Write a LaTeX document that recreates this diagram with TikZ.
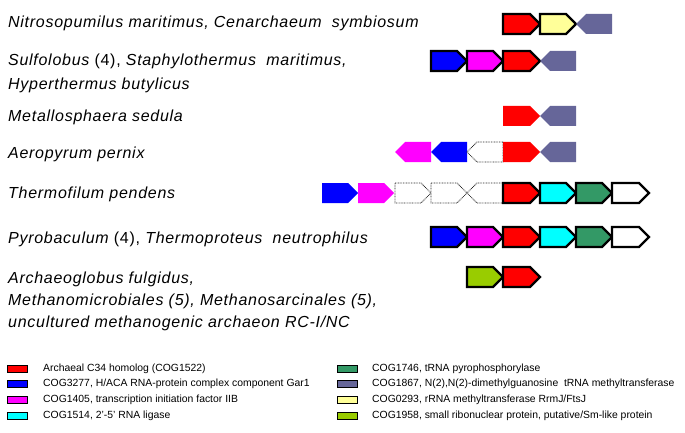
\documentclass[tikz,border=0pt]{standalone}
\usepackage{fontspec}
\setmainfont{Liberation Sans}
\newfontfamily\spfont[LetterSpace=4.5]{Liberation Sans}
\definecolor{cred}{HTML}{FF0000}
\definecolor{cblue}{HTML}{0000FF}
\definecolor{cmag}{HTML}{FF00FF}
\definecolor{ccyan}{HTML}{00FFFF}
\definecolor{cgreen}{HTML}{339966}
\definecolor{cslate}{HTML}{666699}
\definecolor{cyell}{HTML}{FFFF99}
\definecolor{clime}{HTML}{99CC00}
\tikzset{
  thickb/.style={draw=black,line width=2.2pt,line join=miter},
  nob/.style={draw=none},
  dotb/.style={draw=black!85,line width=0.8pt,dash pattern=on 0.8pt off 0.8pt,fill=white},
  sp/.style={anchor=base west,inner sep=0pt,font=\spfont\fontsize{16}{19}\selectfont\itshape},
  lg/.style={anchor=west,inner sep=0pt,font=\fontsize{10.4}{12}\selectfont},
  lbox/.style={draw=black,line width=0.6pt},
}
% right-pointing gene: x1, x2, y, style
\newcommand\gR[4]{\path[#4] (#1,#3-10) -- (#2-10,#3-10) -- (#2,#3) -- (#2-10,#3+10) -- (#1,#3+10) -- cycle;}
% left-pointing gene
\newcommand\gL[4]{\path[#4] (#2,#3-10) -- (#1+10,#3-10) -- (#1,#3) -- (#1+10,#3+10) -- (#2,#3+10) -- cycle;}
\begin{document}
\begin{tikzpicture}[x=1pt,y=-1pt]
\useasboundingbox (0,0) rectangle (685,433);
% species labels
\node[sp] (t1) at (8,28) {Nitrosopumilus maritimus, Cenarchaeum\ \ symbiosum};
\node[sp] (t2) at (8,66) {Sulfolobus \upshape(4), \itshape Staphylothermus\ \ maritimus,};
\node[sp] (t2b) at (8,90) {Hyperthermus butylicus};
\node[sp] (t3) at (8,122) {Metallosphaera sedula};
\node[sp] (t4) at (8,158) {Aeropyrum pernix};
\node[sp] (t5) at (8,198) {Thermofilum pendens};
\node[sp] (t6) at (8,243) {Pyrobaculum \upshape(4), \itshape Thermoproteus\ \ neutrophilus};
\node[sp] (t7) at (8,283) {Archaeoglobus fulgidus,};
\node[sp] (t7b) at (8,305) {Methanomicrobiales (5), Methanosarcinales (5),};
\node[sp] (t7c) at (8,327) {uncultured methanogenic archaeon RC-I/NC};
% row 1
\gR{503}{540}{24}{thickb,fill=cred}
\gR{540}{576}{24}{thickb,fill=cyell}
\gL{576}{612}{24}{nob,fill=cslate}
% row 2
\gR{431}{467}{61}{thickb,fill=cblue}
\gR{467}{503}{61}{thickb,fill=cmag}
\gR{503}{540}{61}{thickb,fill=cred}
\gL{540}{576}{61}{nob,fill=cslate}
% row 3
\gR{503}{540}{116}{nob,fill=cred}
\gL{540}{576}{116}{nob,fill=cslate}
% row 4
\gL{395}{431}{152}{nob,fill=cmag}
\gL{431}{467}{152}{nob,fill=cblue}
\gL{467}{503}{152}{dotb}
\gR{503}{540}{152}{nob,fill=cred}
\gL{540}{576}{152}{nob,fill=cslate}
% row 5
\gR{322}{358}{193}{nob,fill=cblue}
\gR{358}{394}{193}{nob,fill=cmag}
\gR{395}{431}{193}{dotb}
\gR{431}{467}{193}{dotb}
\gL{467}{503}{193}{dotb}
\gR{503}{540}{193}{thickb,fill=cred}
\gR{540}{576}{193}{thickb,fill=ccyan}
\gR{576}{612}{193}{thickb,fill=cgreen}
\gR{612}{649}{193}{thickb,fill=white}
% row 6
\gR{431}{467}{237}{thickb,fill=cblue}
\gR{467}{503}{237}{thickb,fill=cmag}
\gR{503}{540}{237}{thickb,fill=cred}
\gR{540}{576}{237}{thickb,fill=ccyan}
\gR{576}{612}{237}{thickb,fill=cgreen}
\gR{612}{649}{237}{thickb,fill=white}
% row 7
\gR{467}{503}{277}{thickb,fill=clime}
\gR{503}{540}{277}{thickb,fill=cred}
% legend
\foreach \c/\yy/\txt [count=\i] in {cred/369/Archaeal C34 homolog (COG1522),
  cblue/384/{COG3277, H/ACA RNA-protein complex component Gar1},
  cmag/400/{COG1405, transcription initiation factor IIB},
  ccyan/416/{COG1514, 2'-5' RNA ligase}}{
  \path[lbox,fill=\c] (7,\yy-3.5) rectangle (27,\yy+3.5);
  \node[lg] (la\i) at (43,\yy) {\txt};
}
\foreach \c/\yy/\txt [count=\i] in {cgreen/369/{COG1746, tRNA pyrophosphorylase},
  cslate/384/{COG1867, N(2),N(2)-dimethylguanosine\ \ tRNA methyltransferase},
  cyell/400/{COG0293, rRNA methyltransferase RrmJ/FtsJ},
  clime/416/{COG1958, small ribonuclear protein, putative/Sm-like protein}}{
  \path[lbox,fill=\c] (337,\yy-3.5) rectangle (357,\yy+3.5);
  \node[lg] (lb\i) at (372,\yy) {\txt};
}
\end{tikzpicture}
\end{document}
